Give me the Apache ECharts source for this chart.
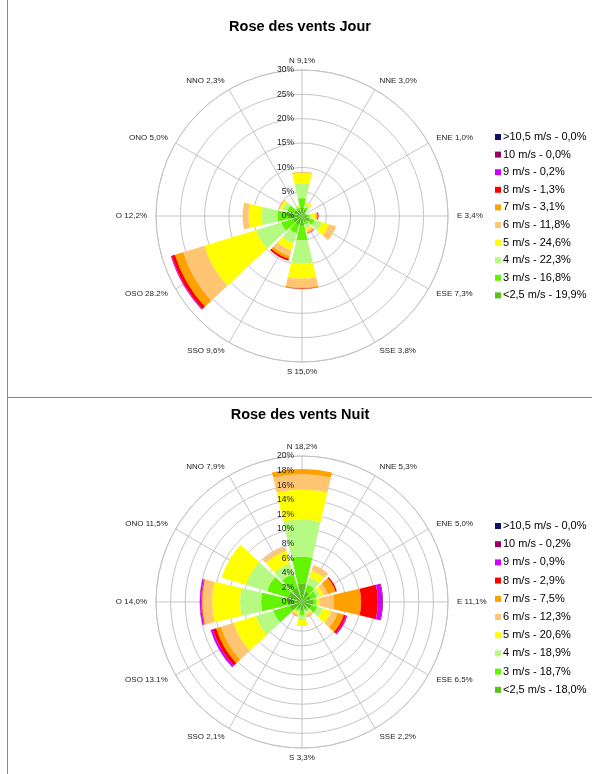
<!DOCTYPE html>
<html>
<head>
<meta charset="utf-8">
<script src="https://cdn.jsdelivr.net/npm/echarts@6.0.0/dist/echarts.min.js"></script>
<style>
  body { margin: 0; background: #fff; }
  .cadre { position: absolute; left: 7px; width: 584px; border-left: 1px solid #888; }
  #jour { top: 0; height: 397px; border-bottom: 1px solid #888; }
  #nuit { top: 398px; height: 376px; }
</style>
</head>
<body>
<div id="jour" class="cadre"></div>
<div id="nuit" class="cadre"></div>

<script>
// secteurs, dans le sens horaire depuis le nord
const directions = ['N', 'NNE', 'ENE', 'E', 'ESE', 'SSE', 'S', 'SSO', 'OSO', 'O', 'ONO', 'NNO'];
// classes de vitesse, de l'intérieur vers l'extérieur
const vitesses = ['<2,5 m/s', '3 m/s', '4 m/s', '5 m/s', '6 m/s', '7 m/s', '8 m/s', '9 m/s', '10 m/s', '>10,5 m/s'];
const couleurs = ['#56c21a', '#62f400', '#b6fa84', '#ffff00', '#ffc572', '#ffa200', '#ff0000', '#d000ff', '#990060', '#10106a'];

// Jour
const etiquettesJour = ['N 9,1%', 'NNE 3,0%', 'ENE 1,0%', 'E 3,4%', 'ESE 7,3%', 'SSE 3,8%',
  'S 15,0%', 'SSO 9,6%', 'OSO 28.2%', 'O 12,2%', 'ONO 5,0%', 'NNO 2,3%'];
const totauxJour = ['19,9%', '16,8%', '22,3%', '24,6%', '11,8%', '3,1%', '1,3%', '0,2%', '0,0%', '0,0%'];
const jour = [
  [1.8, 1.4, 0.7, 1.1, 1.7, 1.3, 2.0, 2.0, 2.0, 2.5, 1.8, 1.3],   // <2,5
  [1.9, 0.5, 0.2, 0.4, 1.0, 0.6, 3.0, 1.7, 2.5, 2.5, 1.4, 0.5],   // 3
  [3.0, 0.5, 0.05, 0.4, 1.6, 0.7, 4.8, 2.2, 5.3, 3.3, 1.0, 0.4],  // 4
  [2.1, 0.5, 0.05, 0.8, 1.5, 0.5, 3.1, 1.5, 11.2, 2.7, 0.5, 0.1], // 5
  [0.3, 0.1, 0, 0.3, 1.5, 0.4, 1.8, 1.2, 4.5, 1.2, 0.3, 0],       // 6
  [0, 0, 0, 0.2, 0, 0.2, 0.2, 0.6, 1.8, 0, 0, 0],                 // 7
  [0, 0, 0, 0.2, 0, 0.1, 0.1, 0.4, 0.7, 0, 0, 0],                 // 8
  [0, 0, 0, 0, 0, 0, 0, 0, 0.2, 0, 0, 0],                         // 9
  [0, 0, 0, 0, 0, 0, 0, 0, 0, 0, 0, 0],                           // 10
  [0, 0, 0, 0, 0, 0, 0, 0, 0, 0, 0, 0]                            // >10,5
];

// Nuit
const etiquettesNuit = ['N 18,2%', 'NNE 5,3%', 'ENE 5,0%', 'E 11,1%', 'ESE 6,5%', 'SSE 2,2%',
  'S 3,3%', 'SSO 2,1%', 'OSO 13.1%', 'O 14,0%', 'ONO 11,5%', 'NNO 7,9%'];
const totauxNuit = ['18,0%', '18,7%', '18,9%', '20,6%', '12,3%', '7,5%', '2,9%', '0,9%', '0,2%', '0,0%'];
const nuit = [
  [2.5, 1.5, 1.3, 1.6, 1.4, 1.0, 1.2, 1.0, 1.8, 2.0, 2.0, 2.0],
  [3.7, 1.0, 0.8, 0.3, 0.8, 0.3, 0.6, 0.3, 2.3, 3.6, 3.0, 2.0],
  [5.1, 1.0, 0.5, 0.2, 0.8, 0.3, 0.7, 0.2, 2.5, 2.9, 3.0, 1.5],
  [4.1, 1.0, 0.5, 0.3, 1.2, 0.2, 0.8, 0.2, 3.2, 3.8, 3.5, 1.8],
  [2.1, 0.8, 0.6, 2.0, 0.9, 0.3, 0, 0.3, 1.8, 1.3, 0, 0.6],
  [0.7, 0, 1.1, 3.7, 0.9, 0.1, 0, 0.1, 0.7, 0.1, 0, 0],
  [0, 0, 0.2, 2.3, 0.3, 0, 0, 0, 0.5, 0.1, 0, 0],
  [0, 0, 0, 0.6, 0.2, 0, 0, 0, 0.3, 0.2, 0, 0],
  [0, 0, 0, 0.1, 0, 0, 0, 0, 0, 0, 0, 0],
  [0, 0, 0, 0, 0, 0, 0, 0, 0, 0, 0, 0]
];

const gris = '#c4c4c4';

function optionRose(titre, etiquettes, totaux, valeurs, rMax, pas, titreTop, legendeTop, legendeGap, cy) {
  const series = vitesses.map((v, i) => ({
    name: v + ' - ' + totaux[i],
    type: 'bar',
    coordinateSystem: 'polar',
    polarIndex: 0,
    stack: 'rose',
    barCategoryGap: '13%',
    itemStyle: { color: couleurs[i] },
    data: valeurs[i]
  }));
  return {
    animation: false,
    textStyle: { fontFamily: 'Liberation Sans' },
    title: {
      text: titre,
      left: 'center',
      top: titreTop,
      textStyle: { fontSize: 14.5, fontWeight: 'bold', color: '#000', fontFamily: 'Liberation Sans' }
    },
    legend: {
      orient: 'vertical',
      left: 482,
      top: legendeTop,
      icon: 'rect',
      itemWidth: 6,
      itemHeight: 6,
      itemGap: legendeGap,
      selectedMode: false,
      textStyle: { fontSize: 11, color: '#000', lineHeight: 12, padding: [0, 0, 0, -3] },
      data: series.map(s => s.name).reverse()
    },
    polar: [
      { center: [294, cy], radius: 146 },
      { center: [294, cy], radius: 146 }
    ],
    angleAxis: [
      {
        polarIndex: 0, type: 'category', data: directions, startAngle: 105,
        axisLine: { show: false }, axisTick: { show: false }, splitLine: { show: false },
        axisLabel: {
          interval: 0, fontSize: 8, color: '#222', margin: 9, lineHeight: 1,
          formatter: (v, i) => etiquettes[i]
        }
      },
      {
        polarIndex: 1, type: 'category', data: directions, startAngle: 90,
        axisLine: { lineStyle: { color: gris, width: 1 } }, axisTick: { show: false }, axisLabel: { show: false },
        splitLine: { show: true, interval: 0, lineStyle: { color: gris, width: 1 } }
      }
    ],
    radiusAxis: [
      {
        polarIndex: 0, min: 0, max: rMax, interval: pas,
        axisLine: { show: false }, axisTick: { show: false }, axisLabel: { show: false },
        splitLine: { show: true, lineStyle: { color: gris, width: 1 } }
      },
      {
        polarIndex: 1, min: 0, max: rMax, interval: pas, z: 10,
        axisLine: { show: false }, axisTick: { show: false }, splitLine: { show: false },
        axisLabel: { fontSize: 8.5, color: '#222', formatter: '{value}%' }
      }
    ],
    series: series
  };
}

const chartJour = echarts.init(document.getElementById('jour'));
chartJour.setOption(optionRose('Rose des vents Jour', etiquettesJour, totauxJour, jour, 30, 5, 14, 126, 5.6, 216));

const chartNuit = echarts.init(document.getElementById('nuit'));
chartNuit.setOption(optionRose('Rose des vents Nuit', etiquettesNuit, totauxNuit, nuit, 20, 2, 4, 117, 6.2, 204));
</script>
</body>
</html>
